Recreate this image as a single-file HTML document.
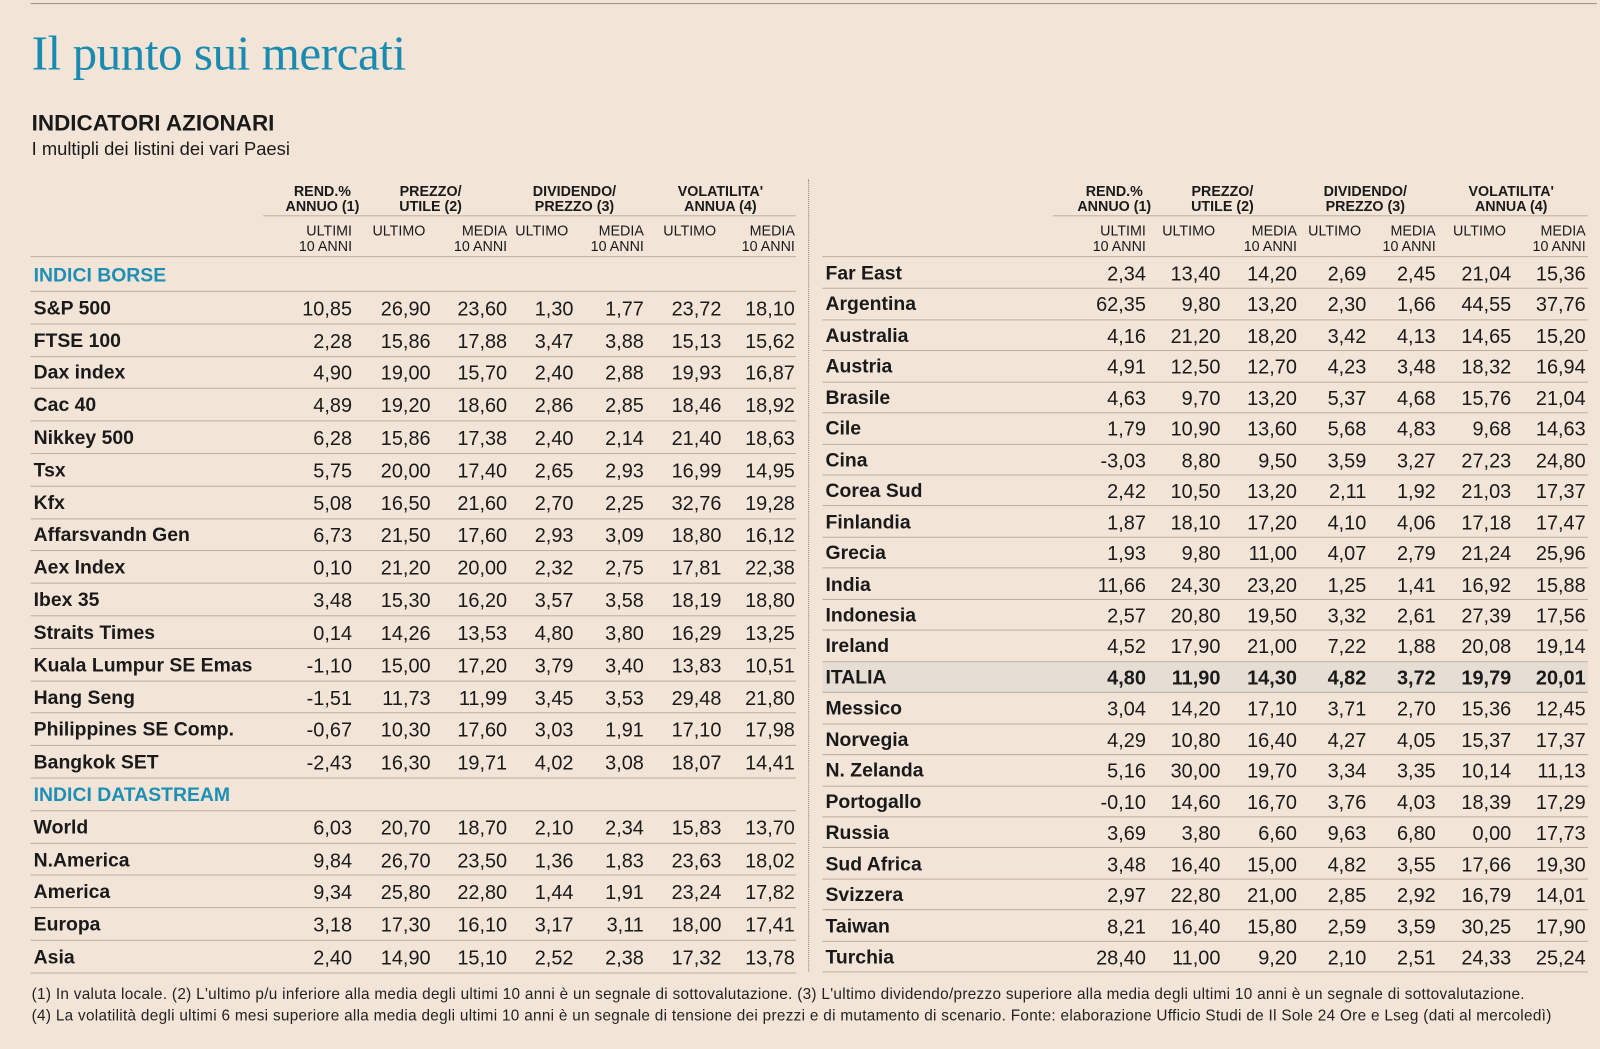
<!DOCTYPE html>
<html><head><meta charset="utf-8">
<style>
body{margin:0;background:#f3e4d8;}
#page{position:relative;width:1600px;height:1049px;background:#f3e4d8;overflow:hidden;font-family:"Liberation Sans",sans-serif;color:#1a1a1a;}
#inner{position:absolute;left:0;top:0;width:1568px;height:1028px;transform:scale(1.0204);transform-origin:0 0;}
.abs{position:absolute;white-space:nowrap;}
.hline{position:absolute;height:0;border-top:1.5px solid #bcae9f;}
.num{position:absolute;font-size:19.5px;text-align:right;width:80px;line-height:22px;}
.lab{position:absolute;font-size:19px;font-weight:bold;line-height:22px;}
.sec{color:#1d8fb5;}
.gh{position:absolute;font-size:14px;font-weight:bold;text-align:center;line-height:15px;}
.sh{position:absolute;font-size:14px;text-align:right;line-height:15px;width:90px;}
.fn{position:absolute;left:31px;font-size:15px;letter-spacing:0.3px;white-space:nowrap;color:#222;}
</style></head><body>
<div id="page">
<div id="inner">
<div class="hline" style="left:30px;top:3px;width:1535px;border-top-color:#9d9187"></div>
<div class="abs" style="left:31px;top:25px;font-family:'Liberation Serif',serif;font-size:48px;color:#1a8bb0;letter-spacing:-0.4px">Il punto sui mercati</div>
<div class="abs" style="left:31px;top:108px;font-size:22px;font-weight:bold;">INDICATORI AZIONARI</div>
<div class="abs" style="left:31px;top:136px;font-size:18px;">I multipli dei listini dei vari Paesi</div>
<div class="abs" style="left:792px;top:176px;height:776px;border-left:1.5px dotted #8a7f76"></div>
<div id="tables"></div>
<div class="fn" style="top:966px">(1) In valuta locale. (2) L'ultimo p/u inferiore alla media degli ultimi 10 anni è un segnale di sottovalutazione. (3) L'ultimo dividendo/prezzo superiore alla media degli ultimi 10 anni è un segnale di sottovalutazione.</div>
<div class="fn" style="top:987px">(4) La volatilità degli ultimi 6 mesi superiore alla media degli ultimi 10 anni è un segnale di tensione dei prezzi e di mutamento di scenario. Fonte: elaborazione Ufficio Studi de Il Sole 24 Ore e Lseg (dati al mercoledì)</div>
</div>
</div>
<script>
const leftRows = [
["#INDICI BORSE"],
["S&P 500","10,85","26,90","23,60","1,30","1,77","23,72","18,10"],
["FTSE 100","2,28","15,86","17,88","3,47","3,88","15,13","15,62"],
["Dax index","4,90","19,00","15,70","2,40","2,88","19,93","16,87"],
["Cac 40","4,89","19,20","18,60","2,86","2,85","18,46","18,92"],
["Nikkey 500","6,28","15,86","17,38","2,40","2,14","21,40","18,63"],
["Tsx","5,75","20,00","17,40","2,65","2,93","16,99","14,95"],
["Kfx","5,08","16,50","21,60","2,70","2,25","32,76","19,28"],
["Affarsvandn Gen","6,73","21,50","17,60","2,93","3,09","18,80","16,12"],
["Aex Index","0,10","21,20","20,00","2,32","2,75","17,81","22,38"],
["Ibex 35","3,48","15,30","16,20","3,57","3,58","18,19","18,80"],
["Straits Times","0,14","14,26","13,53","4,80","3,80","16,29","13,25"],
["Kuala Lumpur SE Emas","-1,10","15,00","17,20","3,79","3,40","13,83","10,51"],
["Hang Seng","-1,51","11,73","11,99","3,45","3,53","29,48","21,80"],
["Philippines SE Comp.","-0,67","10,30","17,60","3,03","1,91","17,10","17,98"],
["Bangkok SET","-2,43","16,30","19,71","4,02","3,08","18,07","14,41"],
["#INDICI DATASTREAM"],
["World","6,03","20,70","18,70","2,10","2,34","15,83","13,70"],
["N.America","9,84","26,70","23,50","1,36","1,83","23,63","18,02"],
["America","9,34","25,80","22,80","1,44","1,91","23,24","17,82"],
["Europa","3,18","17,30","16,10","3,17","3,11","18,00","17,41"],
["Asia","2,40","14,90","15,10","2,52","2,38","17,32","13,78"]
];
const rightRows = [
["Far East","2,34","13,40","14,20","2,69","2,45","21,04","15,36"],
["Argentina","62,35","9,80","13,20","2,30","1,66","44,55","37,76"],
["Australia","4,16","21,20","18,20","3,42","4,13","14,65","15,20"],
["Austria","4,91","12,50","12,70","4,23","3,48","18,32","16,94"],
["Brasile","4,63","9,70","13,20","5,37","4,68","15,76","21,04"],
["Cile","1,79","10,90","13,60","5,68","4,83","9,68","14,63"],
["Cina","-3,03","8,80","9,50","3,59","3,27","27,23","24,80"],
["Corea Sud","2,42","10,50","13,20","2,11","1,92","21,03","17,37"],
["Finlandia","1,87","18,10","17,20","4,10","4,06","17,18","17,47"],
["Grecia","1,93","9,80","11,00","4,07","2,79","21,24","25,96"],
["India","11,66","24,30","23,20","1,25","1,41","16,92","15,88"],
["Indonesia","2,57","20,80","19,50","3,32","2,61","27,39","17,56"],
["Ireland","4,52","17,90","21,00","7,22","1,88","20,08","19,14"],
["!ITALIA","4,80","11,90","14,30","4,82","3,72","19,79","20,01"],
["Messico","3,04","14,20","17,10","3,71","2,70","15,36","12,45"],
["Norvegia","4,29","10,80","16,40","4,27","4,05","15,37","17,37"],
["N. Zelanda","5,16","30,00","19,70","3,34","3,35","10,14","11,13"],
["Portogallo","-0,10","14,60","16,70","3,76","4,03","18,39","17,29"],
["Russia","3,69","3,80","6,60","9,63","6,80","0,00","17,73"],
["Sud Africa","3,48","16,40","15,00","4,82","3,55","17,66","19,30"],
["Svizzera","2,97","22,80","21,00","2,85","2,92","16,79","14,01"],
["Taiwan","8,21","16,40","15,80","2,59","3,59","30,25","17,90"],
["Turchia","28,40","11,00","9,20","2,10","2,51","24,33","25,24"]
];
const groupHeads = [["REND.%","ANNUO (1)"],["PREZZO/","UTILE (2)"],["DIVIDENDO/","PREZZO (3)"],["VOLATILITA'","ANNUA (4)"]];
const subHeads = [["ULTIMI","10 ANNI"],["ULTIMO",""],["MEDIA","10 ANNI"],["ULTIMO",""],["MEDIA","10 ANNI"],["ULTIMO",""],["MEDIA","10 ANNI"]];

const root=document.getElementById('tables');
function mk(cls,style,txt){const d=document.createElement('div');d.className=cls;d.style.cssText=style;if(txt!==undefined)d.textContent=txt;root.appendChild(d);return d;}

function table(rows,x0,x1,colR,groupCenters,groupLineX,firstY,step,side){
  groupHeads.forEach((g,i)=>{
    const d=mk('gh',`left:${groupCenters[i]-60}px;top:180px;width:120px`);
    d.innerHTML=g[0]+'<br>'+g[1];
    
    
  });
  const gl=mk('hline',`left:${groupLineX}px;top:211px;width:${x1-groupLineX}px`);
  
  
  subHeads.forEach((s,i)=>{
    const d=mk('sh',`left:${colR[i]-90}px;top:219px`);
    d.innerHTML=s[0]+'<br>'+s[1];
    if(i==1||i==3||i==5){d.style.textAlign='left';d.style.left=(colR[i]-57)+'px';}
    
    
  });
  const hl=mk('hline',`left:${x0}px;top:251px;width:${x1-x0}px`);
  
  
  rows.forEach((r,i)=>{
    const cy=firstY+i*step;
    let label=r[0],isSec=false,isHi=false;
    if(label[0]=='#'){isSec=true;label=label.slice(1);}
    if(label[0]=='!'){isHi=true;label=label.slice(1);}
    if(isHi){
      const bg=mk('abs',`left:${x0}px;top:${cy-step/2}px;width:${x1-x0}px;height:${step}px;background:#e6ddd4`);
      
      
    }
    const l=mk('lab'+(isSec?' sec':''),`left:${x0+3}px;top:${cy-10}px`,label);
    
    
    for(let c=1;c<r.length;c++){
      const n=mk('num',`left:${colR[c-1]-80}px;top:${cy-10}px${isHi?';font-weight:bold':''}`,r[c]);
      
      
    }
    const ln=mk('hline',`left:${x0}px;top:${cy+step/2-1}px;width:${x1-x0}px`);
    
    
  });
}
table(leftRows,30,780,[345,422,497,562,631,707,779],[316,422,563,706],258,270,(938-270)/21,'left');
table(rightRows,806,1556,[1123,1196,1271,1339,1407,1481,1554],[1092,1198,1338,1481],1032,268,(938-268)/22,'right');
</script>
</body></html>
